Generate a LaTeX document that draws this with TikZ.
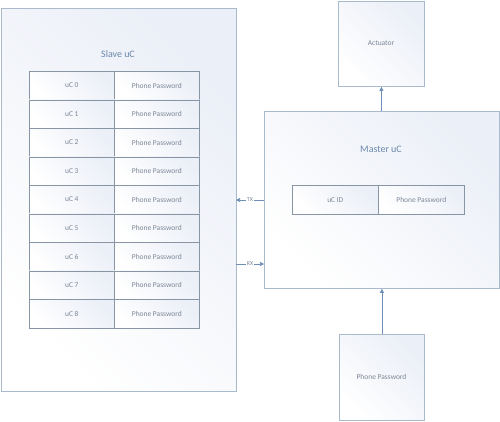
\documentclass[tikz,border=0pt]{standalone}
\usepackage{fontspec}
\setmainfont{Carlito}
\usetikzlibrary{arrows.meta}
\definecolor{bordc}{HTML}{A9BACD}
\definecolor{txtc}{HTML}{7C8797}
\definecolor{titc}{HTML}{6A88AC}
\definecolor{arrc}{HTML}{6F8FB8}
\definecolor{shc}{HTML}{EBEFF7}
\tikzset{
  box/.style={draw=bordc, line width=0.8pt, left color=shc, right color=white, shading angle=-45, inner sep=0pt, anchor=north west},
  cell/.style={draw=bordc!80!black, line width=0.6pt, left color=shc, right color=white, shading angle=-45, inner sep=0pt, anchor=north west, minimum width=85bp, minimum height=28.5bp, font=\fontsize{7.5}{8}\selectfont, text=txtc},
  title/.style={font=\fontsize{10}{12}\selectfont, text=titc},
  lbl/.style={font=\fontsize{7.5}{8}\selectfont, text=txtc},
  small/.style={font=\fontsize{6}{7}\selectfont, text=txtc, fill=white, inner sep=0.5pt},
  conn/.style={draw=arrc, line width=0.6pt, -{Triangle[length=4bp,width=4bp]}},
}
\begin{document}
\begin{tikzpicture}[x=1bp,y=-1bp]
\useasboundingbox (0,0) rectangle (500,421);
% Slave
\node[box, minimum width=235bp, minimum height=383bp] (slave) at (1,8) {};
\node[title] (slavet) at (118,54) {Slave uC};
\foreach \i in {0,...,8} {
  \node[cell] (id\i) at (29,{71+28.5*\i}) {uC \i};
  \node[cell] (pw\i) at (114,{71+28.5*\i}) {Phone Password};
}
% Actuator
\node[box, minimum width=86bp, minimum height=85bp] (act) at (338,1) {};
\node[lbl] (actt) at (381,43) {Actuator};
% Master
\node[box, minimum width=235bp, minimum height=177bp] (master) at (264,111) {};
\node[title] (mastert) at (381,149) {Master uC};
\node[cell, minimum width=86bp, minimum height=29bp] (mid) at (292,185) {uC ID};
\node[cell, minimum width=86bp, minimum height=29bp] (mpw) at (378,185) {Phone Password};
% Phone Password input
\node[box, minimum width=85bp, minimum height=86bp] (phone) at (339,334) {};
\node[lbl] (phonet) at (381.5,377) {Phone Password};
% connectors
\coordinate (txs) at (264,200);
\coordinate (txe) at (236,200);
\coordinate (rxs) at (236,264);
\coordinate (rxe) at (264,264);
\draw[conn] (txs) -- node[small] (txl) {TX} (txe);
\draw[conn] (rxs) -- node[small] (rxl) {RX} (rxe);
\draw[conn] (master.north -| act.south) -- (act.south);
\draw[conn] (phone.north) -- (phone.north |- master.south);
\end{tikzpicture}
\end{document}
